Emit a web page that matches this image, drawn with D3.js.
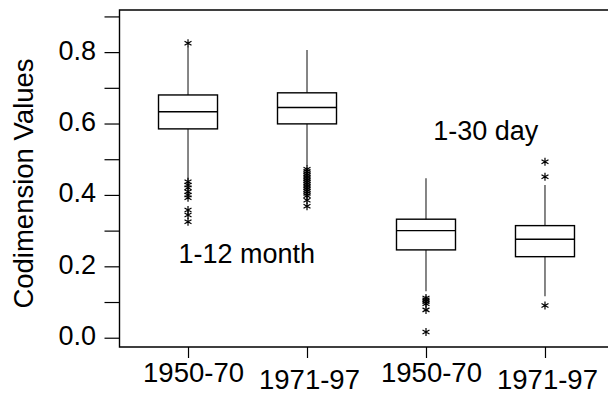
<!DOCTYPE html>
<html><head><meta charset="utf-8">
<script src="https://cdn.jsdelivr.net/npm/d3@7"></script>
<style>body{margin:0;background:#fff}svg{display:block}text{font-family:"Liberation Sans",Arial,sans-serif;fill:#000}</style>
</head><body><svg id="c" width="608" height="394"></svg>
<script>
const categories = ["1950-70","1971-97","1950-70","1971-97"];
const lowWhisker = [0.44, 0.48, 0.130, 0.116];
const q1 = [0.585, 0.599, 0.246, 0.227];
const median = [0.633, 0.645, 0.300, 0.276];
const q3 = [0.680, 0.686, 0.332, 0.314];
const highWhisker = [0.815, 0.806, 0.447, 0.428];
const outliers = [
  [0.825, 0.437, 0.428, 0.420, 0.409, 0.400, 0.392, 0.358, 0.344, 0.325],
  [0.472, 0.466, 0.460, 0.455, 0.450, 0.445, 0.440, 0.435, 0.430, 0.425, 0.420, 0.415, 0.410, 0.404, 0.398, 0.385, 0.368],
  [0.111, 0.106, 0.101, 0.095, 0.078, 0.016],
  [0.493, 0.451, 0.090]
];
const yTicks = [0.0, 0.2, 0.4, 0.6, 0.8];
const yMinorTicks = [0.1, 0.3, 0.5, 0.7, 0.9];
const annotations = [
  {text: "1-12 month", pos: -0.08, value: 0.208},
  {text: "1-30 day", pos: 2.06, value: 0.554}
];

const svg = d3.select("#c");
const mLeft = 119.5, mTop = 10, mBottom = 347;
const y = d3.scaleLinear().domain([-0.026, 0.918]).range([mBottom, mTop]);
const x = d3.scalePoint().domain(d3.range(categories.length)).range([119, 614]).padding(0.58);
const step = x.step();
const boxW = 59;
const FONT = "Liberation Sans, Arial, sans-serif";

// frame
svg.append("path").attr("d", `M608,${mTop}H${mLeft}V${mBottom}H608`)
  .attr("fill","none").attr("stroke","#000").attr("stroke-width",1.4);

// y axis ticks
const yAxis = d3.axisLeft(y).tickValues(yTicks.concat(yMinorTicks)).tickSize(15).tickPadding(8.5)
  .tickFormat(d => yTicks.includes(d) ? d3.format(".1f")(d) : "");
const ya = svg.append("g").attr("transform", `translate(${mLeft},0)`).call(yAxis);
ya.select(".domain").remove();
ya.selectAll(".tick line").attr("stroke","#000").attr("stroke-width",1.2);
ya.selectAll(".tick text").attr("font-size","27px").attr("dy","0.26em").attr("font-family",FONT).attr("fill","#000");

// x axis
const xAxis = d3.axisBottom(x).tickSize(11).tickPadding(4).tickFormat(i => categories[i]);
const xa = svg.append("g").attr("transform", `translate(0,${mBottom})`).call(xAxis);
xa.select(".domain").remove();
xa.selectAll(".tick line").attr("stroke","#000").attr("stroke-width",1.2);
xa.selectAll(".tick text").attr("font-size","27.5px").attr("font-family",FONT).attr("fill","#000")
  .attr("dy", (d,i) => i % 2 === 0 ? "0.71em" : "0.97em")
  .attr("dx", (d,i) => i % 2 === 0 ? 5 : 2);

// y label
svg.append("text").attr("transform", `translate(33,183.5) rotate(-90)`)
  .attr("text-anchor","middle").attr("font-size","27.5px").attr("font-family",FONT).text("Codimension Values");

// boxes
const g = svg.append("g");
categories.forEach((c, i) => {
  const cx = x(i);
  g.append("line").attr("x1",cx).attr("x2",cx).attr("y1",y(highWhisker[i])).attr("y2",y(q3[i]))
    .attr("stroke","#222").attr("stroke-width",1.1);
  g.append("line").attr("x1",cx).attr("x2",cx).attr("y1",y(q1[i])).attr("y2",y(lowWhisker[i]))
    .attr("stroke","#222").attr("stroke-width",1.1);
  g.append("rect").attr("x",cx-boxW/2).attr("width",boxW).attr("y",y(q3[i])).attr("height",y(q1[i])-y(q3[i]))
    .attr("fill","none").attr("stroke","#000").attr("stroke-width",1.4);
  g.append("line").attr("x1",cx-boxW/2).attr("x2",cx+boxW/2).attr("y1",y(median[i])).attr("y2",y(median[i]))
    .attr("stroke","#000").attr("stroke-width",1.4);
  const sym = d3.symbol().type(d3.symbolAsterisk).size(45);
  g.selectAll(null).data(outliers[i]).enter().append("path")
    .attr("d", sym).attr("transform", d => `translate(${cx},${y(d)})`)
    .attr("fill","none").attr("stroke","#000").attr("stroke-width",1.2);
});

// annotations
annotations.forEach(a => {
  svg.append("text").attr("x", x(0) + a.pos * step).attr("y", y(a.value))
    .attr("font-size","27px").attr("font-family",FONT).text(a.text);
});
</script></body></html>
